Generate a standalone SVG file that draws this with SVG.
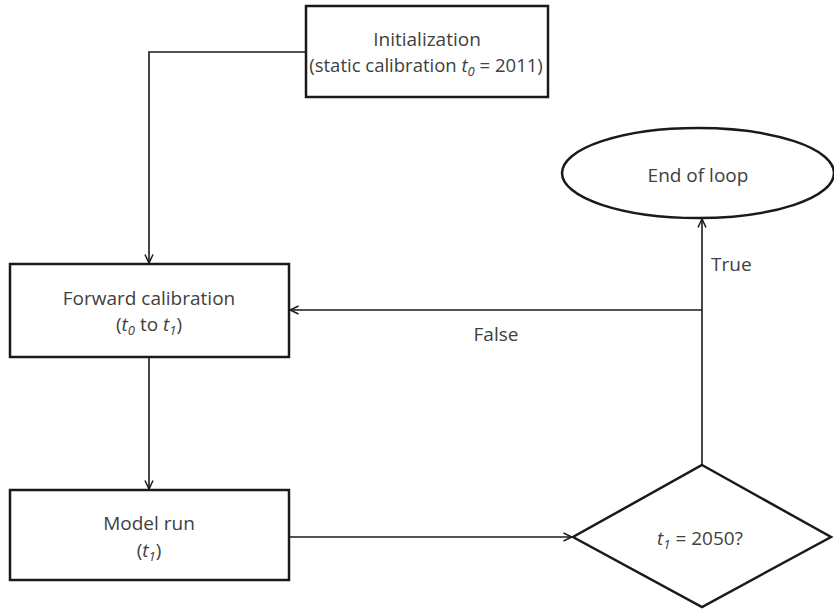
<svg xmlns="http://www.w3.org/2000/svg" width="834" height="610" viewBox="0 0 834 610">
<style>
.node{fill:#fff;stroke:#1a1a1a;stroke-width:2.5}
.edge{fill:none;stroke:#1a1a1a;stroke-width:1.6}
text{font-family:"Open Sans","Liberation Sans",sans-serif;font-size:19px;fill:#404040;text-anchor:middle}
.it{font-style:italic}
.sub{font-style:italic;font-size:13px}
</style>
<defs>
<marker id="arr" viewBox="0 0 10 10" refX="9.5" refY="5" markerWidth="10" markerHeight="10" markerUnits="userSpaceOnUse" orient="auto">
<path d="M1,1 L9.5,5 L1,9" fill="none" stroke="#1a1a1a" stroke-width="1.5"/>
</marker>
</defs>
<g id="connectors">
<path class="edge" d="M306,52 H149 V263" marker-end="url(#arr)"/>
<path class="edge" d="M149,357 V489" marker-end="url(#arr)"/>
<path class="edge" d="M289,537 H572" marker-end="url(#arr)"/>
<path class="edge" d="M702,465 V219" marker-end="url(#arr)"/>
<path class="edge" d="M702,310 H290" marker-end="url(#arr)"/>
<text x="711" y="271" style="text-anchor:start">True</text>
<text x="496" y="341">False</text>
</g>
<g id="init">
<rect class="node" x="306" y="6" width="242" height="91"/>
<text x="427" y="46">Initialization</text>
<text x="426" y="72" style="font-size:18.5px">(static calibration <tspan class="it">t</tspan><tspan class="sub" dy="4">0</tspan><tspan dy="-4"> = 2011)</tspan></text>
</g>
<g id="forward">
<rect class="node" x="10" y="264" width="279" height="93"/>
<text x="149" y="305">Forward calibration</text>
<text x="149" y="331">(<tspan class="it">t</tspan><tspan class="sub" dy="4">0</tspan><tspan dy="-4"> to </tspan><tspan class="it">t</tspan><tspan class="sub" dy="4">1</tspan><tspan dy="-4">)</tspan></text>
</g>
<g id="modelrun">
<rect class="node" x="10" y="490" width="279" height="90"/>
<text x="149" y="530">Model run</text>
<text x="149" y="557">(<tspan class="it">t</tspan><tspan class="sub" dy="4">1</tspan><tspan dy="-4">)</tspan></text>
</g>
<g id="end">
<ellipse class="node" cx="698" cy="173" rx="136" ry="45"/>
<text x="698" y="182">End of loop</text>
</g>
<g id="decision">
<polygon class="node" points="702,465 831,537 702,607 573,537"/>
<text x="700" y="545"><tspan class="it">t</tspan><tspan class="sub" dy="4">1</tspan><tspan dy="-4"> = 2050?</tspan></text>
</g>
</svg>
